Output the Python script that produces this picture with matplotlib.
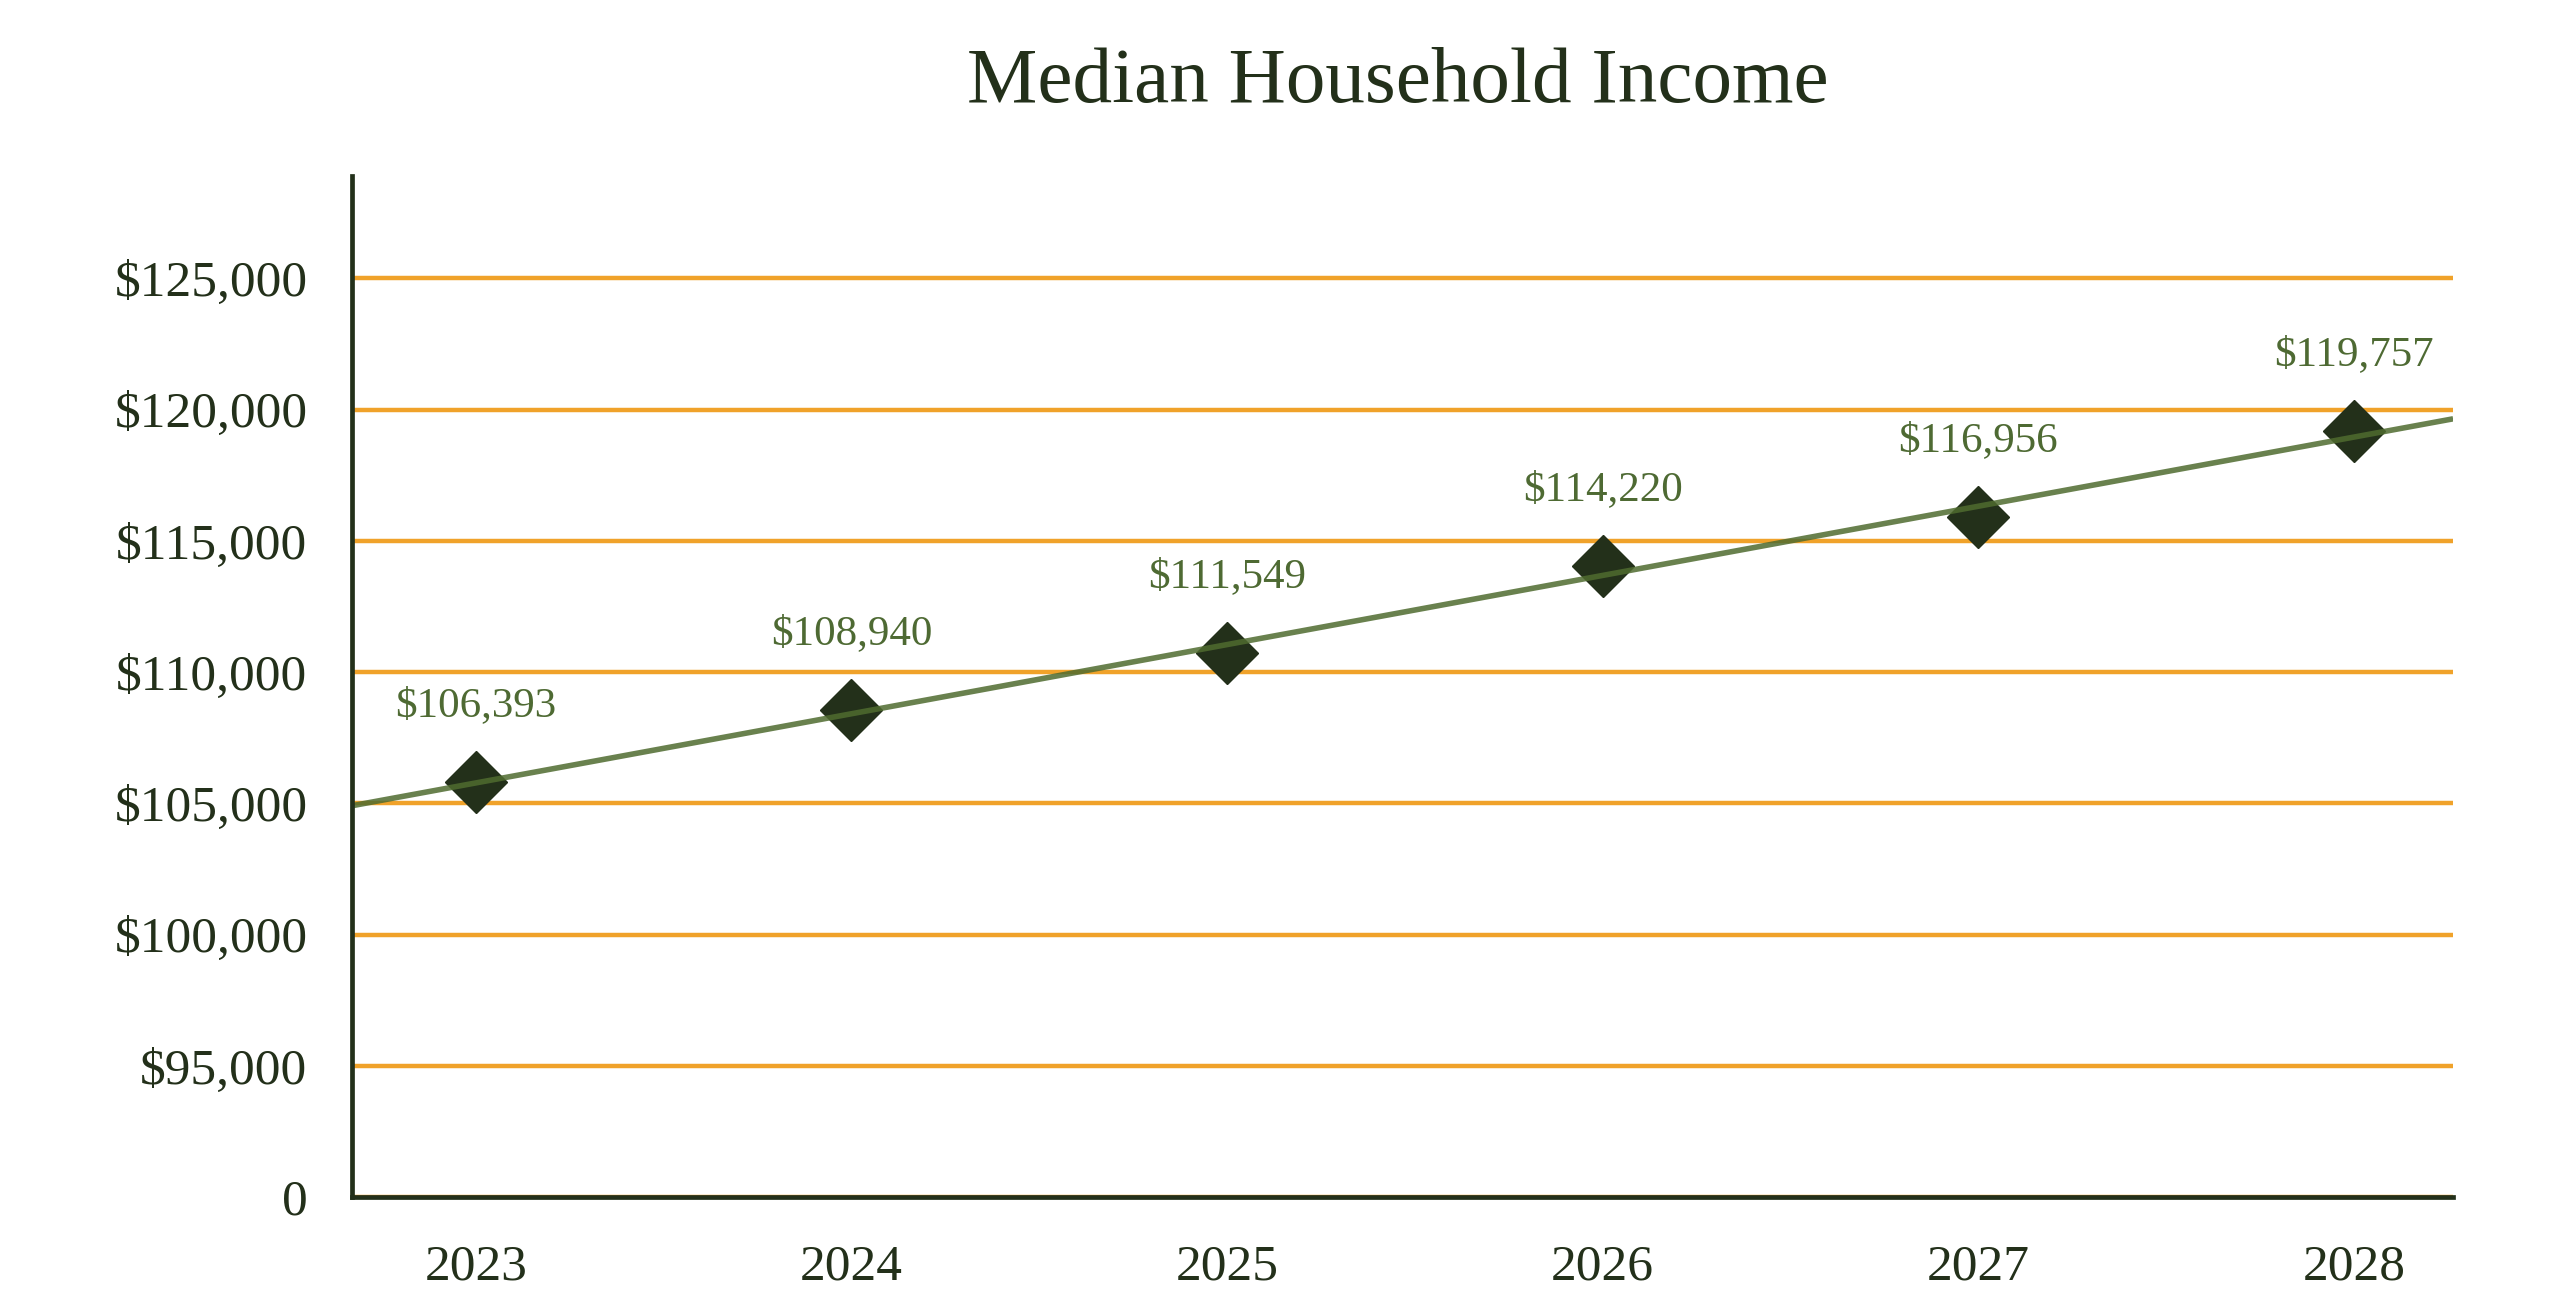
import numpy as np
import matplotlib.pyplot as plt

years = ["2023", "2024", "2025", "2026", "2027", "2028"]
# marker heights
income = [105800, 108560, 110710, 114050, 115890, 119180]
# the labels printed over each marker
income_labels = ["$106,393", "$108,940", "$111,549", "$114,220", "$116,956", "$119,757"]

ytick_values = [90000, 95000, 100000, 105000, 110000, 115000, 120000, 125000]
ytick_labels = ["0", "$95,000", "$100,000", "$105,000", "$110,000", "$115,000", "$120,000", "$125,000"]

dark = "#23301a"
olive = "#4f6b2f"
orange = "#f0a22a"

plt.rcParams['font.family'] = ['Liberation Serif', 'DejaVu Serif']

fig = plt.figure(figsize=(25.5, 12.93), dpi=100)
ax = fig.add_axes([0.138, 0.0742, 0.824, 0.7897])

x = np.arange(len(years))

# linear trend line across the whole plot width
xlim = (-0.33, 5.264)
k, b = np.polyfit(x, income, 1)
xt = np.array(xlim)
ax.plot(xt, k * xt + b, color=olive, lw=4, alpha=0.85, zorder=4, solid_capstyle='butt')

ax.plot(x, income, linestyle='none', marker='D', markersize=32, color=dark, zorder=3)

for i in range(len(years)):
    ax.annotate(income_labels[i], (x[i], income[i]), xytext=(0, 55), textcoords='offset points',
                ha='center', va='center', fontsize=31, color="#4e6a33")

ax.set_xlim(xlim)
ax.set_ylim(90000, 128900)
ax.set_xticks(x)
ax.set_xticklabels(years)
ax.set_yticks(ytick_values)
ax.set_yticklabels(ytick_labels)
ax.tick_params(axis='both', length=0, labelsize=37, colors=dark)
ax.tick_params(axis='y', pad=32)
ax.tick_params(axis='x', pad=34)

ax.yaxis.grid(True, color=orange, lw=3.2)
ax.set_axisbelow(True)

for s in ['top', 'right']:
    ax.spines[s].set_visible(False)
for s in ['left', 'bottom']:
    ax.spines[s].set_color(dark)
    ax.spines[s].set_linewidth(3.4)
    ax.spines[s].set_zorder(5)

fig.text(0.548, 0.936, "Median Household Income", ha='center', va='center', fontsize=57, color=dark)

fig.savefig("out.png", dpi=100)
